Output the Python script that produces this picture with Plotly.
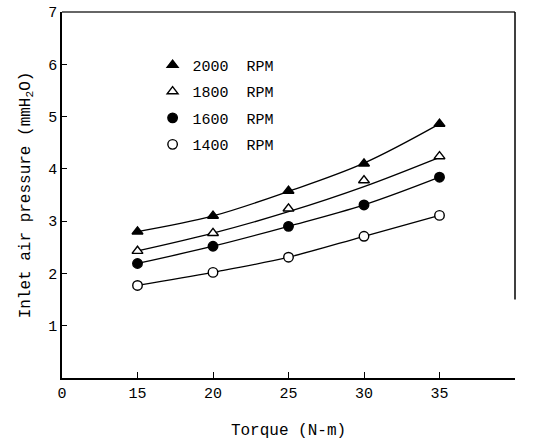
import plotly.graph_objects as go

torque = [15, 20, 25, 30, 35]
p2000 = [2.80, 3.10, 3.58, 4.10, 4.86]
p1800 = [2.43, 2.77, 3.24, 3.78, 4.24]
p1600 = [2.19, 2.52, 2.90, 3.31, 3.84]
p1400 = [1.77, 2.02, 2.31, 2.71, 3.11]
# fitted curves as drawn in the figure
fit2000 = [2.80, 3.10, 3.57, 4.11, 4.86]
fit1800 = [2.43, 2.77, 3.18, 3.66, 4.22]
fit1600 = [2.19, 2.52, 2.90, 3.31, 3.84]
fit1400 = [1.77, 2.02, 2.31, 2.71, 3.11]

series = [
    ("2000  RPM", p2000, fit2000, "triangle-up", "black"),
    ("1800  RPM", p1800, fit1800, "triangle-up", "white"),
    ("1600  RPM", p1600, fit1600, "circle", "black"),
    ("1400  RPM", p1400, fit1400, "circle", "white"),
]

xticks = [10, 15, 20, 25, 30, 35]
xticktext = ["0", "15", "20", "25", "30", "35"]
yticks = [1, 2, 3, 4, 5, 6, 7]

FONT = "Liberation Mono"
fig = go.Figure()
for name, pts, fit, sym, fill in series:
    fig.add_trace(go.Scatter(
        x=torque, y=fit, mode="lines", line=dict(color="black", width=1.3, shape="spline"),
        showlegend=False, hoverinfo="skip"))
for i, (name, pts, fit, sym, fill) in enumerate(series):
    fig.add_trace(go.Scatter(
        x=torque, y=pts, mode="markers", name=name, legendgroup=str(i),
        marker=dict(symbol=sym, size=9.5, color=fill,
                    line=dict(color="black", width=1.4))))

fig.update_layout(
    width=552, height=440,
    margin=dict(l=62, r=37, t=12, b=62),
    plot_bgcolor="white", paper_bgcolor="white",
    font=dict(family=FONT, color="black", size=14),
    legend=dict(x=0.2, y=0.9, xanchor="left", yanchor="top",
                bgcolor="rgba(0,0,0,0)", font=dict(size=15, family=FONT),
                tracegroupgap=4, itemwidth=30),
    xaxis=dict(range=[10, 40], tickvals=xticks, ticktext=xticktext, automargin=False,
               showgrid=False, zeroline=False, showline=True, linecolor="black", linewidth=1.5,
               ticks="inside", ticklen=6, tickcolor="black",
               title=dict(text="Torque (N-m)", font=dict(size=16), standoff=24),
               tickfont=dict(size=15)),
    yaxis=dict(range=[0, 7], tickvals=yticks, automargin=False,
               showgrid=False, zeroline=False, showline=True, linecolor="black", linewidth=1.5,
               ticks="inside", ticklen=5, tickcolor="black",
               title=dict(text="Inlet air pressure (mmH<sub>2</sub>O)", font=dict(size=16), standoff=14),
               tickfont=dict(size=15)),
)
fig.add_shape(type="line", xref="paper", yref="paper", x0=0, x1=1, y0=1, y1=1,
              line=dict(color="#333", width=1.3))
fig.add_shape(type="line", xref="paper", yref="y", x0=1, x1=1, y0=1.5, y1=7,
              line=dict(color="black", width=1.5))
fig.write_html("out.html")
